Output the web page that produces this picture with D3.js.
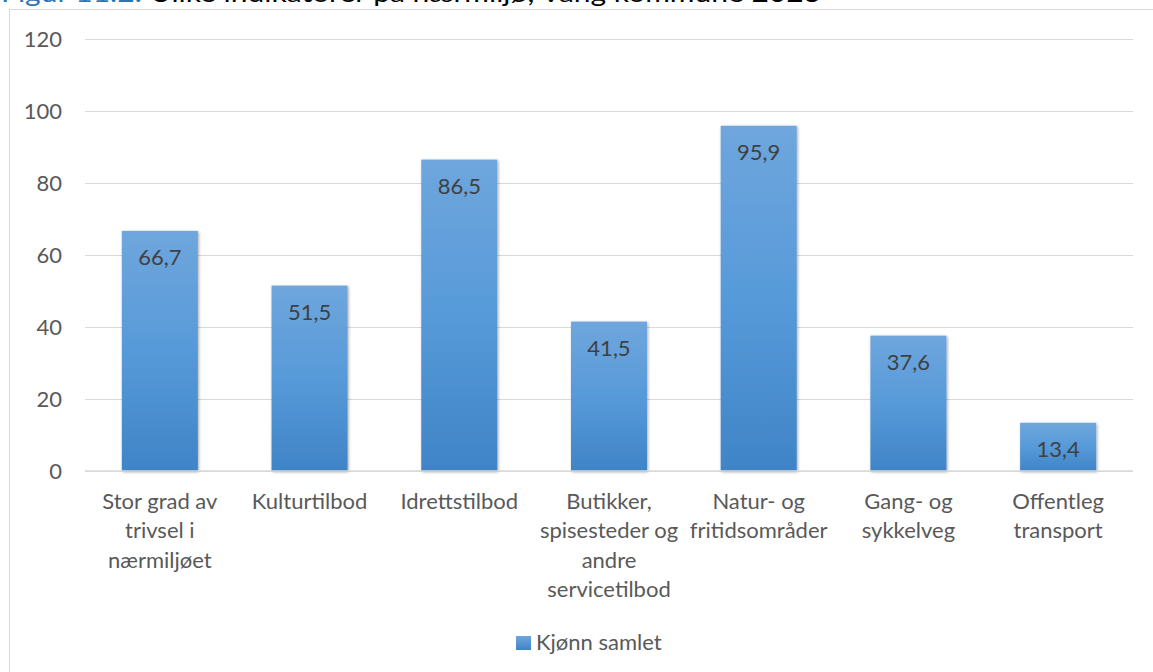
<!DOCTYPE html>
<html>
<head>
<meta charset="utf-8">
<script src="https://cdn.jsdelivr.net/npm/d3@7"></script>
<style>
  html, body { margin: 0; padding: 0; background: #ffffff; overflow: hidden; }
  svg { display: block; }
</style>
</head>
<body>
<svg id="chart" width="1153" height="672"></svg>
<script>
const categories = [
  "Stor grad av trivsel i nærmiljøet",
  "Kulturtilbod",
  "Idrettstilbod",
  "Butikker, spisesteder og andre servicetilbod",
  "Natur- og fritidsområder",
  "Gang- og sykkelveg",
  "Offentleg transport"
];
const categoryLines = [
  ["Stor grad av", "trivsel i", "nærmiljøet"],
  ["Kulturtilbod"],
  ["Idrettstilbod"],
  ["Butikker,", "spisesteder og", "andre", "servicetilbod"],
  ["Natur- og", "fritidsområder"],
  ["Gang- og", "sykkelveg"],
  ["Offentleg", "transport"]
];
const values = [66.7, 51.5, 86.5, 41.5, 95.9, 37.6, 13.4];
const seriesName = "Kjønn samlet";
const yTicks = [0, 20, 40, 60, 80, 100, 120];
const titlePrefix = "Figur 11.2:";
const titleText = " Ulike indikatorer på nærmiljø, Vang kommune 2023";

const svg = d3.select("#chart");
const FONT = "Lato, 'Open Sans', sans-serif";
const FS = 22;

// defs
const defs = svg.append("defs");
const grad = defs.append("linearGradient").attr("id", "barGrad")
  .attr("x1", 0).attr("y1", 0).attr("x2", 0).attr("y2", 1);
grad.append("stop").attr("offset", "0%").attr("stop-color", "#6fa6dd");
grad.append("stop").attr("offset", "50%").attr("stop-color", "#579ad9");
grad.append("stop").attr("offset", "100%").attr("stop-color", "#3f84c7");
const lg = defs.append("linearGradient").attr("id", "legGrad")
  .attr("x1", 0).attr("y1", 0).attr("x2", 0).attr("y2", 1);
lg.append("stop").attr("offset", "0%").attr("stop-color", "#6fa6dd");
lg.append("stop").attr("offset", "100%").attr("stop-color", "#3f84c7");
const sh = defs.append("filter").attr("id", "shadow")
  .attr("x", "-20%").attr("y", "-20%").attr("width", "140%").attr("height", "140%");
sh.append("feDropShadow").attr("dx", 1).attr("dy", 1).attr("stdDeviation", 1.6)
  .attr("flood-color", "#000").attr("flood-opacity", 0.35);

// title (partly clipped at top, as in the reference)
const title = svg.append("text")
  .attr("x", 1).attr("y", 2)
  .attr("font-family", FONT).attr("font-size", 25)
  .attr("textLength", 820).attr("lengthAdjust", "spacingAndGlyphs");
title.append("tspan").attr("fill", "#2e74b5").text(titlePrefix);
title.append("tspan").attr("fill", "#000000").text(titleText);

// chart area border
svg.append("rect")
  .attr("x", 9.5).attr("y", 9.5).attr("width", 1160).attr("height", 700)
  .attr("fill", "none").attr("stroke", "#d9d9d9").attr("stroke-width", 1);

// scales
const plotLeft = 85, plotRight = 1133;
const x = d3.scaleBand()
  .domain(categories)
  .range([plotLeft, plotRight])
  .paddingInner(0.492)
  .paddingOuter(0.246);
const y = d3.scaleLinear().domain([0, 120]).range([471, 39]);

// gridlines + y tick labels
const yAxis = d3.axisLeft(y).tickValues(yTicks).tickSize(-(plotRight - plotLeft)).tickPadding(23);
const gy = svg.append("g").attr("transform", `translate(${plotLeft},0)`).call(yAxis);
gy.select(".domain").remove();
gy.selectAll(".tick line").attr("stroke", "#d9d9d9").attr("stroke-width", 1.2);
gy.selectAll(".tick text")
  .attr("font-family", FONT).attr("font-size", FS).attr("fill", "#595959");

// bars
svg.append("g").selectAll("rect")
  .data(values)
  .join("rect")
  .attr("x", (d, i) => x(categories[i]))
  .attr("y", d => y(d))
  .attr("width", x.bandwidth())
  .attr("height", d => y(0) - y(d))
  .attr("fill", "url(#barGrad)")
  .attr("filter", "url(#shadow)");

// baseline over bars
svg.append("line")
  .attr("x1", plotLeft).attr("x2", plotRight)
  .attr("y1", y(0)).attr("y2", y(0))
  .attr("stroke", "#d9d9d9").attr("stroke-width", 1.5);

// value labels
svg.append("g").selectAll("text")
  .data(values)
  .join("text")
  .attr("x", (d, i) => x(categories[i]) + x.bandwidth() / 2)
  .attr("y", d => y(d) + 34)
  .attr("text-anchor", "middle")
  .attr("font-family", FONT).attr("font-size", FS).attr("fill", "#404040")
  .text(d => d3.format(".1f")(d).replace(".", ","));

// x labels
const xl = svg.append("g").selectAll("text")
  .data(categories)
  .join("text")
  .attr("text-anchor", "middle")
  .attr("font-family", FONT).attr("font-size", FS).attr("fill", "#595959");
xl.each(function(c, i) {
  const t = d3.select(this);
  categoryLines[i].forEach((line, j) => {
    t.append("tspan")
      .attr("x", x(c) + x.bandwidth() / 2)
      .attr("y", 509 + j * 29.3)
      .text(line);
  });
});

// legend
const legend = svg.append("g");
legend.append("rect")
  .attr("x", 516).attr("y", 636).attr("width", 15).attr("height", 14)
  .attr("fill", "url(#legGrad)");
legend.append("text")
  .attr("x", 536).attr("y", 650)
  .attr("font-family", FONT).attr("font-size", FS).attr("fill", "#595959")
  .text(seriesName);
</script>
</body>
</html>
